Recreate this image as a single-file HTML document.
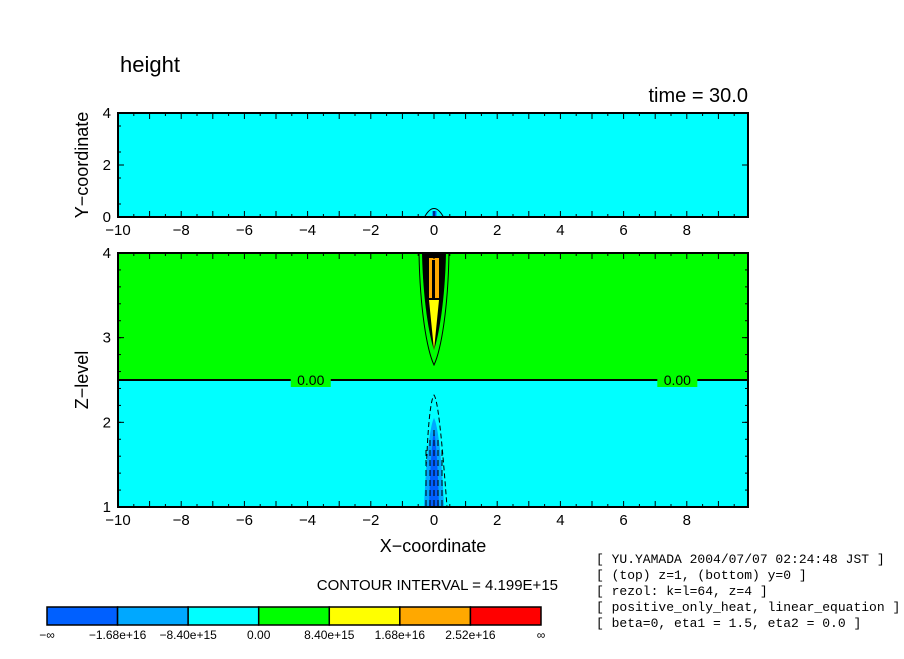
<!DOCTYPE html>
<html><head><meta charset="utf-8"><style>
html,body{margin:0;padding:0;background:#fff;}
svg text{font-family:"Liberation Sans",sans-serif;}
svg .mono text{font-family:"Liberation Mono",monospace;}
</style></head><body>
<svg width="904" height="654" viewBox="0 0 904 654" xmlns="http://www.w3.org/2000/svg">
<text x="120" y="72" font-size="22">height</text>
<text x="748" y="102" font-size="20" text-anchor="end">time = 30.0</text>
<g id="topPanel"></g>
<g id="botPanel"></g>
<g id="cbar"></g>
<text x="558" y="590" font-size="15" text-anchor="end">CONTOUR INTERVAL = 4.199E+15</text>
<g class="mono" font-size="13">
<text x="596" y="563">[ YU.YAMADA 2004/07/07 02:24:48 JST ]</text>
<text x="596" y="579">[ (top) z=1, (bottom) y=0 ]</text>
<text x="596" y="595">[ rezol: k=l=64, z=4 ]</text>
<text x="596" y="611">[ positive_only_heat, linear_equation ]</text>
<text x="596" y="627">[ beta=0, eta1 = 1.5, eta2 = 0.0 ]</text>
</g>
</svg>
<script>
const xTicks=[-10,-8,-6,-4,-2,0,2,4,6,8];
const yTicksTop=[0,2,4];
const zTicks=[1,2,3,4];
const cbColors=["#0060ff","#00a8ff","#00ffff","#00ff00","#ffff00","#ffa800","#ff0000"];
const cbLabels=["−∞","−1.68e+16","−8.40e+15","0.00","8.40e+15","1.68e+16","2.52e+16","∞"];
const zeroLevel=2.5;
const NS="http://www.w3.org/2000/svg";
const X0=118,X1=748;
const sx=v=>434+(v)*31.6;
const syT=v=>217-v*26;
const syB=v=>507-(v-1)*84.67;
function el(t,a,p){const e=document.createElementNS(NS,t);for(const k in a)e.setAttribute(k,a[k]);p.appendChild(e);return e;}
const tp=document.getElementById('topPanel'),bt=document.getElementById('botPanel');
let r=el('rect',{x:X0,y:113,width:X1-X0,height:104,fill:'#00ffff'},tp);


let s=el('path',{d:`M${sx(-0.3)},217 Q${sx(0)},200 ${sx(0.3)},217`,fill:'none',stroke:'#000'},tp);


el('rect',{x:sx(-0.05),y:211,width:4,height:6,fill:'#0060ff'},tp);
el('rect',{x:X0,y:113,width:X1-X0,height:104,fill:'none',stroke:'#000','stroke-width':2},tp);
r=el('rect',{x:X0,y:253,width:X1-X0,height:127,fill:'#00ff00'},bt);


r=el('rect',{x:X0,y:380,width:X1-X0,height:127,fill:'#00ffff'},bt);


const c=sx(0);
el('path',{d:`M${c-15},253 C${c-14},310 ${c-7},350 ${c},365 C${c+7},350 ${c+14},310 ${c+15},253`,fill:'none',stroke:'#000'},bt);
el('path',{d:`M${c-12},253 C${c-11},300 ${c-5},335 ${c},350 C${c+5},335 ${c+11},300 ${c+12},253Z`,fill:'#000'},bt);
el('path',{d:`M${c-5},300 L${c},350 L${c+5},300Z`,fill:'#ffff00'},bt);
el('rect',{x:c-5,y:258,width:10,height:40,fill:'#ffa800'},bt);
el('rect',{x:c-2,y:260,width:3,height:40,fill:'#000'},bt);
el('path',{d:`M${c-8},507 C${c-8},440 ${c-4},400 ${c},395 C${c+4},400 ${c+8},440 ${c+13},507`,fill:'none',stroke:'#000','stroke-dasharray':'5,3'},bt);
el('path',{d:`M${c-10},507 C${c-8},460 ${c-4},425 ${c},418 C${c+4},425 ${c+8},460 ${c+10},507Z`,fill:'#00a8ff'},bt);
el('path',{d:`M${c-5},507 C${c-4},470 ${c-2},440 ${c},430 C${c+2},440 ${c+4},470 ${c+5},507Z`,fill:'#0060ff'},bt);
for(let i=-2;i<=2;i++){el('line',{x1:c+i*4,y1:430+Math.abs(i)*10,x2:c+i*4,y2:507,stroke:'#000','stroke-dasharray':'6,4'},bt);}
const zy=syB(zeroLevel);
let zl=el('line',{x1:X0,y1:zy,x2:X1,y2:zy,stroke:'#000','stroke-width':2},bt);


[sx(-3.9),sx(7.7)].forEach(x=>{el('rect',{x:x-20,y:zy-7,width:40,height:14,fill:'#00ff00'},bt);let t=el('text',{x:x,y:zy+5,'font-size':14,'text-anchor':'middle'},bt);t.textContent='0.00';

});
el('rect',{x:X0,y:253,width:X1-X0,height:254,fill:'none',stroke:'#000','stroke-width':2},bt);
function xAxis(p,yb,yt){
 for(let v=-10;v<10;v+=0.5){const x=sx(v),m=Number.isInteger(v);
  el('line',{x1:x,y1:yb,x2:x,y2:yb-(m?6:3),stroke:'#000'},p);el('line',{x1:x,y1:yt,x2:x,y2:yt+(m?6:3),stroke:'#000'},p);}
 xTicks.forEach(v=>{const t=el('text',{x:sx(v),y:yb+18,'font-size':15,'text-anchor':'middle'},p);t.textContent=(v<0?'−':'')+Math.abs(v);
  
  });
}
xAxis(tp,217,113);xAxis(bt,507,253);
yTicksTop.forEach(v=>{const y=syT(v);el('line',{x1:X0,y1:y,x2:X0+6,y2:y,stroke:'#000'},tp);el('line',{x1:X1,y1:y,x2:X1-6,y2:y,stroke:'#000'},tp);
 const t=el('text',{x:111,y:y+5,'font-size':15,'text-anchor':'end'},tp);t.textContent=v;
 
 });
for(let v=0.5;v<4;v+=1){const y=syT(v);el('line',{x1:X0,y1:y,x2:X0+3,y2:y,stroke:'#000'},tp);}
zTicks.forEach(v=>{const y=syB(v);el('line',{x1:X0,y1:y,x2:X0+6,y2:y,stroke:'#000'},bt);el('line',{x1:X1,y1:y,x2:X1-6,y2:y,stroke:'#000'},bt);
 const t=el('text',{x:111,y:y+5,'font-size':15,'text-anchor':'end'},bt);t.textContent=v;
 
 });
for(let v=1.2;v<4;v+=0.2){const y=syB(v);el('line',{x1:X0,y1:y,x2:X0+3,y2:y,stroke:'#000'},bt);el('line',{x1:X1,y1:y,x2:X1-3,y2:y,stroke:'#000'},bt);}
let t=el('text',{x:88,y:165,'font-size':18,'text-anchor':'middle',transform:'rotate(-90 88 165)'},tp);t.textContent='Y−coordinate';


t=el('text',{x:88,y:380,'font-size':18,'text-anchor':'middle',transform:'rotate(-90 88 380)'},bt);t.textContent='Z−level';


t=el('text',{x:433,y:552,'font-size':18,'text-anchor':'middle'},bt);t.textContent='X−coordinate';


const cb=document.getElementById('cbar');const cx0=47,cw=(541-47)/cbColors.length;
cbColors.forEach((col,i)=>{const b=el('rect',{x:cx0+i*cw,y:607,width:cw,height:18,fill:col,stroke:'#000','stroke-width':1.5},cb);
 
 });
cbLabels.forEach((l,i)=>{const tt=el('text',{x:cx0+i*cw,y:639,'font-size':12,'text-anchor':'middle'},cb);tt.textContent=l;
 
 });
</script>
</body></html>
